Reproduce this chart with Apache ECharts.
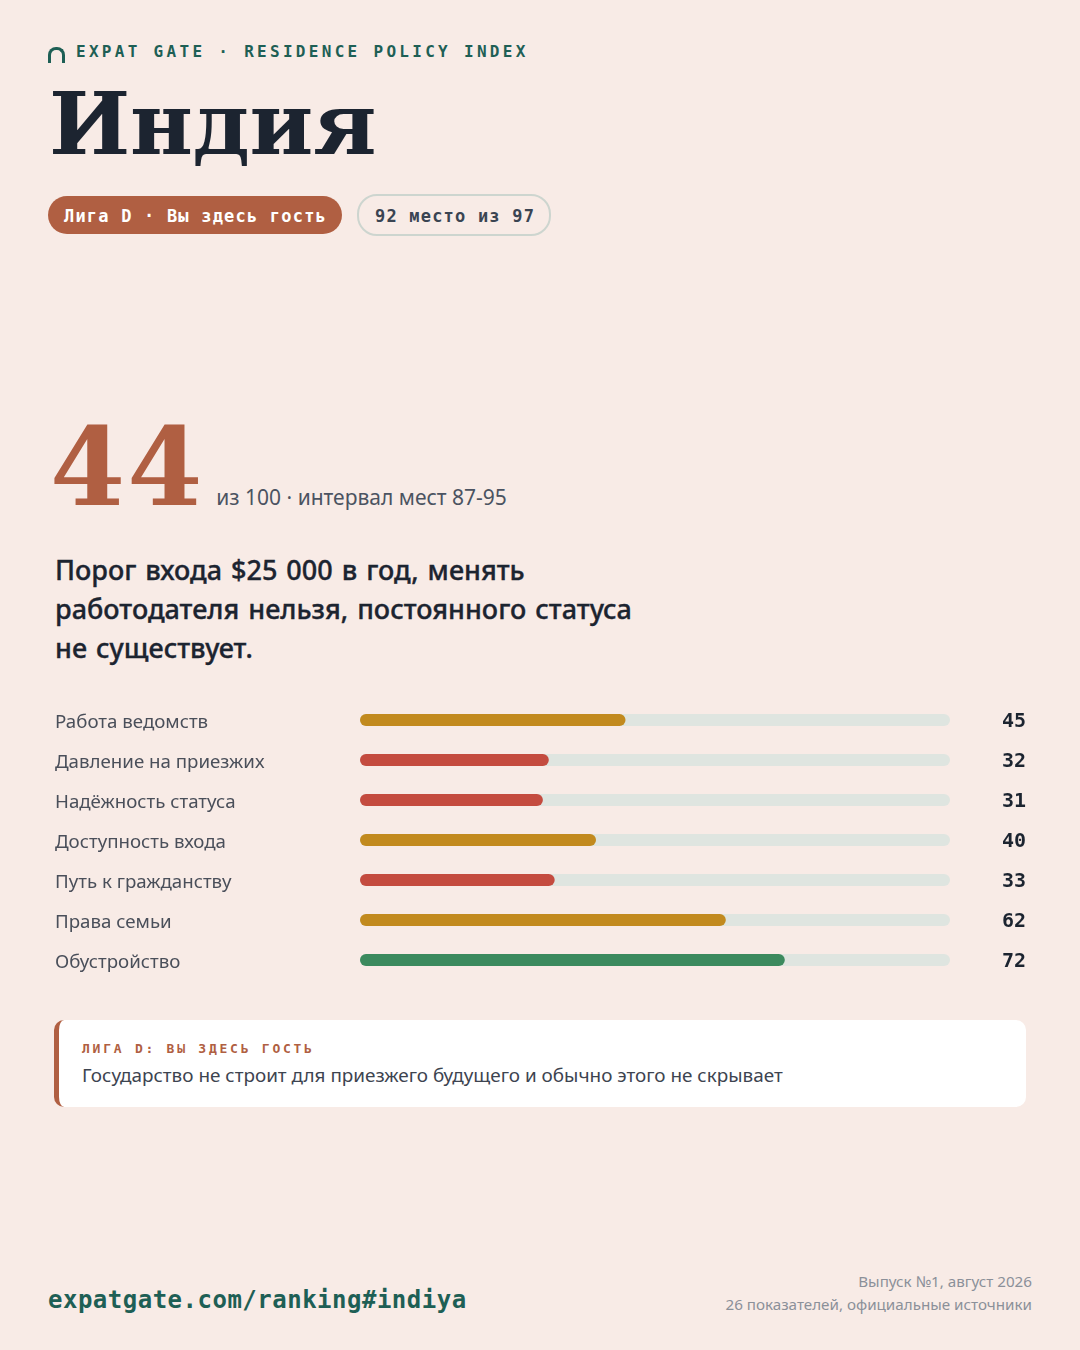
<!DOCTYPE html>
<html>
<head>
<meta charset="utf-8">
<script src="https://cdn.jsdelivr.net/npm/echarts@6/dist/echarts.min.js"></script>
<style>
  html, body { margin:0; padding:0; }
  body { width:1080px; height:1350px; background:#f8ebe6; position:relative; overflow:hidden; font-family:"Noto Sans", sans-serif; }
  .abs { position:absolute; white-space:nowrap; }
  .mono { font-family:"DejaVu Sans Mono", monospace; font-weight:bold; }
  #logo { left:48px; top:47px; width:11px; height:13px; border:3px solid #1e5f55; border-bottom:none; border-radius:8px 8px 0 0; }
  #brand { left:76px; top:44px; font-size:16px; line-height:16px; letter-spacing:3.3px; color:#1e5f55; }
  #title { left:49px; top:81px; font-family:"DejaVu Serif", serif; font-weight:bold; font-size:86px; line-height:86px; color:#1c2430; letter-spacing:-0.3px; }
  .pill { top:196px; height:38px; line-height:41px; border-radius:20px; font-size:17px; letter-spacing:1.2px; box-sizing:border-box; }
  #pill1 { left:48px; width:294px; background:#b05f42; color:#fff; padding-left:16px; }
  #pill2 { left:357px; top:194px; width:194px; height:42px; line-height:41px; border:2px solid #cdd5cf; color:#3a4452; padding-left:16px; }
  #score { left:50px; top:407px; display:flex; align-items:baseline; }
  #score .big { font-family:"DejaVu Serif", serif; font-weight:bold; font-size:108px; line-height:120px; color:#b05f42; letter-spacing:2px; }
  #score .sub { font-size:21px; color:#4b5361; margin-left:12px; }
  #lead { left:55px; top:550px; font-size:27px; line-height:39px; font-weight:500; word-spacing:2px; color:#1c2430; -webkit-text-stroke:0.35px #1c2430; }
  #chart { position:absolute; left:0; top:690px; width:1080px; height:300px; }
  #note { left:54px; top:1020px; width:972px; height:87px; background:#fff; border-radius:10px; border-left:5px solid #b05f42; box-sizing:border-box; }
  #note .h { position:absolute; left:23px; top:22px; font-size:13px; line-height:14px; letter-spacing:2.75px; color:#b05f42; }
  #note .t { position:absolute; left:23px; top:42px; font-size:18.9px; line-height:26px; color:#3d4450; }
  #url { left:48px; top:1286px; font-size:24px; line-height:28px; color:#1e5f55; letter-spacing:0.5px; }
  #meta { right:48px; top:1270px; text-align:right; font-size:15.2px; line-height:23px; color:#8b9099; }
</style>
</head>
<body>
<div id="logo" class="abs"></div>
<div id="brand" class="abs mono">EXPAT GATE · RESIDENCE POLICY INDEX</div>
<div id="title" class="abs">Индия</div>
<div id="pill1" class="abs mono pill">Лига D · Вы здесь гость</div>
<div id="pill2" class="abs mono pill">92 место из 97</div>
<div id="score" class="abs"><span class="big">44</span><span class="sub">из 100 · интервал мест 87-95</span></div>
<div id="lead" class="abs">Порог входа $25 000 в год, менять<br>работодателя нельзя, постоянного статуса<br>не существует.</div>
<div id="chart"></div>
<div id="note" class="abs">
  <div class="h mono">ЛИГА D: ВЫ ЗДЕСЬ ГОСТЬ</div>
  <div class="t">Государство не строит для приезжего будущего и обычно этого не скрывает</div>
</div>
<div id="url" class="abs mono">expatgate.com/ranking#indiya</div>
<div id="meta" class="abs">Выпуск №1, август 2026<br>26 показателей, официальные источники</div>

<script>
// показатели и баллы
var categories = ['Работа ведомств', 'Давление на приезжих', 'Надёжность статуса', 'Доступность входа', 'Путь к гражданству', 'Права семьи', 'Обустройство'];
var scores = [45, 32, 31, 40, 33, 62, 72];

function scoreColor(v) {
    if (v < 35) return '#c44b3f';
    if (v < 70) return '#c28a1e';
    return '#3c8a5e';
}

var myChart = echarts.init(document.getElementById('chart'));

var option = {
    animation: false,
    grid: { left: 360, right: 130, top: 10, height: 280 },
    xAxis: { type: 'value', min: 0, max: 100, show: false },
    yAxis: [{
        type: 'category',
        inverse: true,
        data: categories,
        axisLine: { show: false },
        axisTick: { show: false },
        axisLabel: {
            margin: 305, align: 'left',
            formatter: function (v) { return '{n|' + v + '}'; },
            rich: { n: { color: '#4a4f5a', fontSize: 18.7, fontFamily: 'Noto Sans', padding: [5, 0, 0, 0] } }
        }
    }, {
        type: 'category',
        inverse: true,
        position: 'right',
        data: scores.map(String),
        axisLine: { show: false },
        axisTick: { show: false },
        axisLabel: {
            margin: 76, align: 'right',
            formatter: function (v) { return '{v|' + v + '}'; },
            rich: { v: { color: '#1c2430', fontSize: 20, fontWeight: 'bold', fontFamily: 'DejaVu Sans Mono', padding: [3, 0, 0, 0] } }
        }
    }],
    series: [{
        type: 'bar',
        data: scores,
        barWidth: 12,
        showBackground: true,
        backgroundStyle: { color: '#dfe5e0', borderRadius: 6 },
        itemStyle: {
            borderRadius: 6,
            color: function (p) { return scoreColor(p.value); }
        }
    }]
};

myChart.setOption(option);
window.addEventListener('resize', function () {
    myChart.resize();
});
</script>
</body>
</html>
